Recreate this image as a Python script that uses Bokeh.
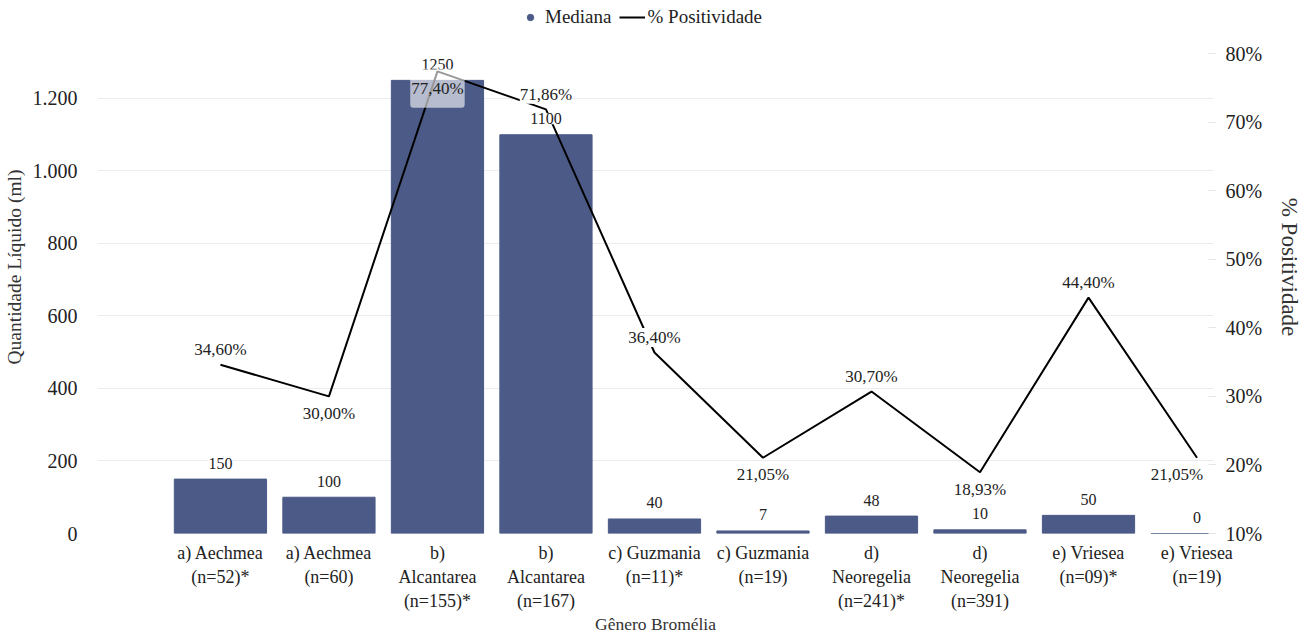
from bokeh.plotting import figure
from bokeh.models import (Range1d, LinearAxis, FixedTicker, PrintfTickFormatter,
                          Legend, LegendItem, Label, ColumnDataSource)
from bokeh.embed import file_html
from bokeh.resources import INLINE

# Bromeliad groups (genus + sample size)
categories = [
    "a) Aechmea\n(n=52)*", "a) Aechmea\n(n=60)",
    "b)\nAlcantarea\n(n=155)*", "b)\nAlcantarea\n(n=167)",
    "c) Guzmania\n(n=11)*", "c) Guzmania\n(n=19)",
    "d)\nNeoregelia\n(n=241)*", "d)\nNeoregelia\n(n=391)",
    "e) Vriesea\n(n=09)*", "e) Vriesea\n(n=19)",
]
# Median liquid volume (ml)
mediana = [150, 100, 1250, 1100, 40, 7, 48, 10, 50, 0]
# Positivity (%)
positividade = [34.60, 30.00, 77.40, 71.86, 36.40, 21.05, 30.70, 18.93, 44.40, 21.05]

left_ticks = [0, 200, 400, 600, 800, 1000, 1200]
right_ticks = [10, 20, 30, 40, 50, 60, 70, 80]

FONT = "Liberation Serif"
BAR = "#4b5a87"
TXT = "#222222"

xs = list(range(len(categories)))

# The frame reaches the top edge so the legend can sit above the data area;
# both y ranges keep the same scale as a 0-1324 / 10-80 axis of 480 px.
p = figure(width=1306, height=636, output_backend="svg", toolbar_location=None,
           x_range=Range1d(-1.133, 9.152), y_range=Range1d(0, 1470.3),
           min_border_left=97, min_border_right=93, min_border_top=0,
           min_border_bottom=103)
p.outline_line_color = None
p.background_fill_color = "white"
p.border_fill_color = "white"

p.extra_y_ranges = {"pct": Range1d(10, 87.73)}

bars = p.vbar(x=xs, top=mediana, width=0.85, fill_color=BAR, line_color=BAR)
src_line = ColumnDataSource(dict(x=xs, y=positividade))
line = p.line("x", "y", source=src_line, y_range_name="pct",
              line_color="black", line_width=2)

# Legend swatch for the bars (no visible point in the plot)
nan = float("nan")
dot = p.scatter(x=[nan], y=[nan], marker="circle", size=10,
                fill_color=BAR, line_color=BAR)

# Axes
p.xaxis.ticker = FixedTicker(ticks=xs)
p.xaxis.major_label_overrides = {i: c for i, c in zip(xs, categories)}
p.xaxis.axis_label = "Gênero Bromélia"
p.xaxis.axis_line_color = None
p.xaxis.major_tick_line_color = None
p.xaxis.major_label_standoff = 3
p.xaxis.axis_label_standoff = 0

p.yaxis.ticker = FixedTicker(ticks=left_ticks)
p.yaxis.major_label_overrides = {t: f"{t:,}".replace(",", ".") for t in left_ticks}
p.yaxis.axis_label = "Quantidade Líquido (ml)"
p.yaxis.axis_line_color = None
p.yaxis.major_tick_line_color = None
p.yaxis.major_label_standoff = 14
p.yaxis.axis_label_standoff = 5

ax_r = LinearAxis(y_range_name="pct", ticker=FixedTicker(ticks=right_ticks),
                  formatter=PrintfTickFormatter(format="%d%%"),
                  axis_label="% Positividade")
ax_r.axis_line_color = None
ax_r.major_tick_line_color = "#e6e6e6"
ax_r.major_tick_in = 5
ax_r.major_tick_out = 3
ax_r.major_label_standoff = 9
ax_r.axis_label_standoff = 12
p.add_layout(ax_r, "right")

for ax, tick_fs, lab_fs in ((p.xaxis[0], "18px", "17.5px"),
                            (p.yaxis[0], "20px", "19.5px"),
                            (ax_r, "20px", "23px")):
    ax.major_label_text_font = FONT
    ax.major_label_text_font_size = tick_fs
    ax.major_label_text_color = TXT
    ax.axis_label_text_font = FONT
    ax.axis_label_text_font_size = lab_fs
    ax.axis_label_text_font_style = "normal"
    ax.axis_label_text_color = "#333333"

p.xgrid.grid_line_color = None
p.ygrid.grid_line_color = "#ececec"
p.ygrid.grid_line_width = 1

# Bar value labels
for x, v in zip(xs, mediana):
    p.add_layout(Label(x=x, y=v, text=str(v), text_align="center",
                       text_baseline="middle", y_offset=16,
                       text_font=FONT, text_font_size="16px", text_color=TXT,
                       background_fill_color="white"))

# Positivity labels: above (-1) or below (+1) the point
side = [-1, 1, 1, -1, -1, 1, -1, 1, -1, 1]
shift_x = [0, 0, 0, 0, 0, 0, 0, 0, 0, -20]
for x, v, s, dx in zip(xs, positividade, side, shift_x):
    txt = f"{v:.2f}".replace(".", ",") + "%"
    boxed = (x == 2)
    p.add_layout(Label(x=x, y=v, y_range_name="pct", text=txt,
                       text_align="center", text_baseline="middle",
                       x_offset=dx, y_offset=15 if s < 0 else -17,
                       text_font=FONT, text_font_size="17px", text_color=TXT,
                       background_fill_color="white",
                       background_fill_alpha=0.6 if boxed else 1.0,
                       padding=(1, 10) if boxed else 0,
                       border_radius=3 if boxed else 0))

legend = Legend(items=[LegendItem(label="Mediana", renderers=[dot]),
                       LegendItem(label="% Positividade", renderers=[line])],
                orientation="horizontal", location=(420, 505),
                label_text_font=FONT, label_text_font_size="19px",
                label_text_color=TXT, border_line_color=None,
                background_fill_alpha=0, glyph_width=26, glyph_height=16,
                spacing=8, label_standoff=2, padding=0, margin=0)
p.add_layout(legend, "center")

open("out.html", "w").write(file_html(p, INLINE))
